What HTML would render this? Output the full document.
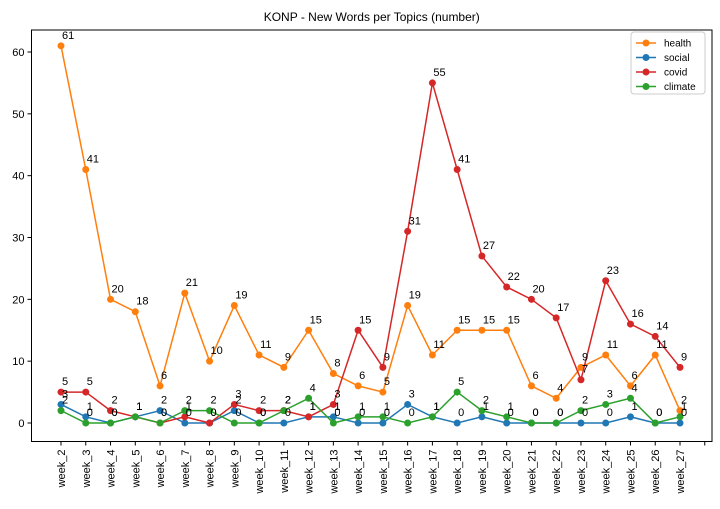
<!DOCTYPE html>
<html><head><meta charset="utf-8"><style>
body{margin:0;background:#fff;}
svg{font-family:"Liberation Sans","DejaVu Sans",sans-serif;}
</style></head><body>
<svg id="chart" width="720" height="504"></svg>
<script>
const categories=["week_2","week_3","week_4","week_5","week_6","week_7","week_8","week_9","week_10","week_11","week_12","week_13","week_14","week_15","week_16","week_17","week_18","week_19","week_20","week_21","week_22","week_23","week_24","week_25","week_26","week_27"];
const health=[61,41,20,18,6,21,10,19,11,9,15,8,6,5,19,11,15,15,15,6,4,9,11,6,11,2];
const social=[3,1,0,1,2,0,0,2,0,0,1,1,0,0,3,1,0,1,0,0,0,0,0,1,0,0];
const covid=[5,5,2,1,0,1,0,3,2,2,1,3,15,9,31,55,41,27,22,20,17,7,23,16,14,9];
const climate=[2,0,0,1,0,2,2,0,0,2,4,0,1,1,0,1,5,2,1,0,0,2,3,4,0,1];
const yTicks=[0,10,20,30,40,50,60];
const seriesNames=["health","social","covid","climate"];
const colors=["#ff7f0e","#1f77b4","#d62728","#2ca02c"];
const NS="http://www.w3.org/2000/svg";
const svg=document.getElementById('chart');
const L=31.5,R=712,T=30,B=441.5;
const x=i=>61+i*(680-61)/25;
const y=v=>423-v*(423-52)/60;
function mk(tag,attrs,parent){const e=document.createElementNS(NS,tag);for(const k in attrs)e.setAttribute(k,attrs[k]);(parent||svg).appendChild(e);return e;}
const title=mk('text',{x:(L+R)/2,y:21,'text-anchor':'middle','font-size':12});
title.textContent="KONP - New Words per Topics (number)";


const frame=mk('rect',{x:L,y:T,width:R-L,height:B-T,fill:'none',stroke:'#000','stroke-width':1});


yTicks.forEach(t=>{
  mk('line',{x1:L-4,x2:L,y1:y(t),y2:y(t),stroke:'#000'});
  const tx=mk('text',{x:L-7,y:y(t)+4,'text-anchor':'end','font-size':11});
  tx.textContent=t;
  
  
});
categories.forEach((c,i)=>{
  mk('line',{x1:x(i),x2:x(i),y1:B,y2:B+4,stroke:'#000'});
  const tx=mk('text',{x:0,y:0,'text-anchor':'end','font-size':11,transform:`translate(${x(i)+4},${B+8}) rotate(-90)`});
  tx.textContent=c;
  
  
});
mk('line',{x1:x(26),x2:x(26),y1:B,y2:B+4,stroke:'#000'});
const all=[health,social,covid,climate];
all.forEach((d,s)=>{
  const g=mk('g',{});
  
  
  const p=mk('polyline',{points:d.map((v,i)=>x(i)+','+y(v)).join(' '),fill:'none',stroke:colors[s],'stroke-width':1.5},g);
  
  
  d.forEach((v,i)=>{
    const c=mk('circle',{cx:x(i),cy:y(v),r:3.5,fill:colors[s]},g);
    
    
  });
});
all.forEach((d,s)=>{
  d.forEach((v,i)=>{
    const t=mk('text',{x:x(i)+1,y:y(v)-7,'font-size':11});
    t.textContent=v;
    
    
  });
});
const lg=mk('g',{});


mk('rect',{x:631,y:32,width:74,height:62,rx:3,fill:'#fff',stroke:'#ccc'},lg);
seriesNames.forEach((n,s)=>{
  const yy=43+s*14.5;
  mk('line',{x1:636,x2:656,y1:yy,y2:yy,stroke:colors[s],'stroke-width':1.5},lg);
  mk('circle',{cx:646,cy:yy,r:3.5,fill:colors[s]},lg);
  const t=mk('text',{x:664,y:yy+3.5,'font-size':10},lg);
  t.textContent=n;
  
  
});
</script>
</body></html>
